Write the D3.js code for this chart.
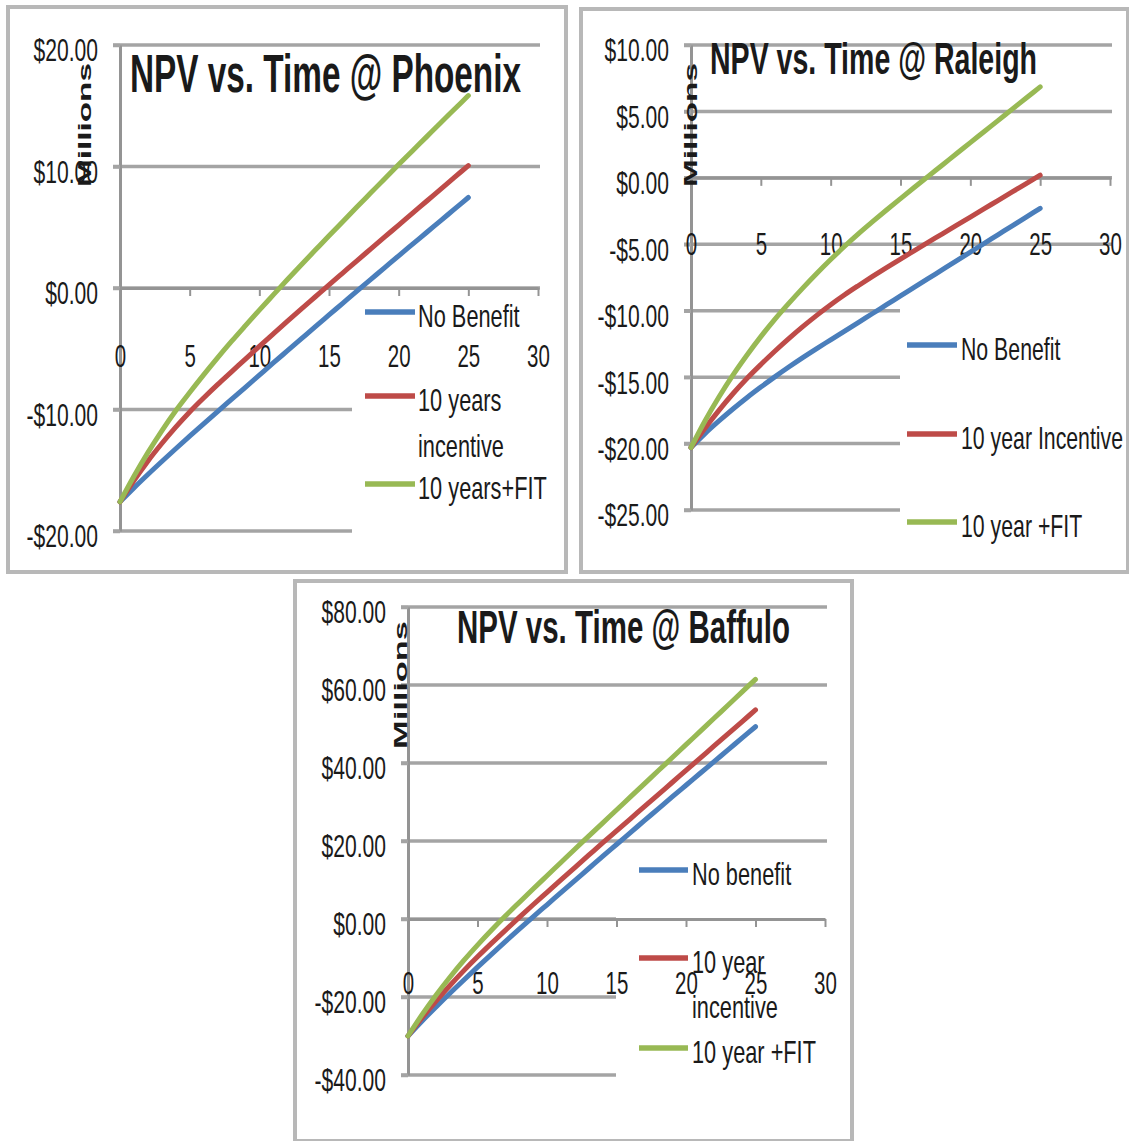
<!DOCTYPE html>
<html>
<head>
<meta charset="utf-8">
<script src="https://cdn.jsdelivr.net/npm/d3@7"></script>
<style>
  html, body { margin: 0; padding: 0; background: #ffffff; }
  svg { display: block; }
  text { font-family: "Liberation Sans", Arial, sans-serif; fill: #1a1a1a; }
</style>
</head>
<body>
<svg id="chart" width="1129" height="1141"></svg>
<script>
// ---- data (NPV in $ millions by project year) ----
const years = [0,1,2,3,4,5,6,7,8,9,10,11,12,13,14,15,16,17,18,19,20,21,22,23,24,25];
const xTicks = [0,5,10,15,20,25,30];

const phoenixYTicks = [-20,-10,0,10,20];
const phoenixNoBenefit = [-17.6,-16.45,-15.35,-14.28,-13.23,-12.2,-11.18,-10.17,-9.17,-8.17,-7.17,-6.17,-5.18,-4.19,-3.2,-2.22,-1.24,-0.26,0.71,1.68,2.65,3.61,4.57,5.53,6.49,7.45];
const phoenixIncentive = [-17.6,-15.85,-14.25,-12.8,-11.45,-10.2,-9.05,-7.95,-6.9,-5.85,-4.8,-3.77,-2.75,-1.74,-0.74,0.26,1.25,2.24,3.22,4.2,5.18,6.16,7.14,8.12,9.1,10.08];
const phoenixFit = [-17.6,-15.5,-13.55,-11.75,-10.1,-8.6,-7.15,-5.75,-4.4,-3.1,-1.82,-0.57,0.68,1.9,3.1,4.3,5.48,6.66,7.83,9.0,10.16,11.3,12.44,13.58,14.71,15.84];
const phoenixLegend = [["No Benefit"], ["10 years", "incentive"], ["10 years+FIT"]];

const raleighYTicks = [-25,-20,-15,-10,-5,0,5,10];
const raleighNoBenefit = [-20.3,-19.25,-18.3,-17.4,-16.55,-15.75,-14.98,-14.24,-13.53,-12.85,-12.19,-11.53,-10.87,-10.21,-9.55,-8.89,-8.23,-7.57,-6.91,-6.25,-5.59,-4.93,-4.27,-3.61,-2.95,-2.29];
const raleighIncentive = [-20.3,-18.85,-17.5,-16.25,-15.1,-14.05,-13.05,-12.1,-11.2,-10.35,-9.55,-8.8,-8.1,-7.42,-6.76,-6.11,-5.47,-4.84,-4.21,-3.58,-2.95,-2.32,-1.69,-1.06,-0.43,0.2];
const raleighFit = [-20.3,-18.3,-16.5,-14.85,-13.35,-11.95,-10.65,-9.45,-8.3,-7.2,-6.15,-5.15,-4.2,-3.3,-2.42,-1.56,-0.71,0.13,0.97,1.81,2.65,3.49,4.33,5.17,6.01,6.85];
const raleighLegend = [["No Benefit"], ["10 year Incentive"], ["10 year +FIT"]];

const buffaloYTicks = [-40,-20,0,20,40,60,80];
const buffaloNoBenefit = [-30,-26.2,-22.6,-19.1,-15.7,-12.35,-9.05,-5.8,-2.6,0.55,3.65,6.75,9.85,12.95,16.05,19.1,22.15,25.2,28.25,31.3,34.3,37.3,40.3,43.3,46.3,49.3];
const buffaloIncentive = [-30,-25.4,-21.1,-17.1,-13.3,-9.7,-6.25,-2.9,0.4,3.65,6.85,10.05,13.2,16.35,19.5,22.6,25.7,28.8,31.9,35.0,38.1,41.2,44.3,47.4,50.5,53.6];
const buffaloFit = [-30,-24.6,-19.6,-15.0,-10.7,-6.7,-2.9,0.75,4.25,7.7,11.1,14.5,17.9,21.25,24.6,27.95,31.3,34.65,38.0,41.35,44.7,48.05,51.4,54.75,58.1,61.45];
const buffaloLegend = [["No benefit"], ["10 year", "incentive"], ["10 year +FIT"]];

const seriesColors = ["#4a7ebb", "#be4b48", "#98b954"];

// ---- layout of the three panels ----
const panels = [
  {
    title: "NPV vs. Time @ Phoenix", titleX: 130, titleY: 92, titleSize: 54, titleW: 391,
    frame: [8, 7, 558, 565],
    xRange: [120, 538], yDomain: [-20, 20], yRange: [531, 45], yTicks: phoenixYTicks,
    series: [phoenixNoBenefit, phoenixIncentive, phoenixFit], legend: phoenixLegend,
    xLabelOffset: 49, millions: { x: 84, y: 125, len: 124 },
    legendBox: [352, 298, 200, 250], swatch: [365, 415], rows: [312, 396, 484], textX: 418, lineGap: 46, legendK: 0.68
  },
  {
    title: "NPV vs. Time @ Raleigh", titleX: 710, titleY: 74, titleSize: 45, titleW: 327,
    frame: [581, 9, 547, 563],
    xRange: [691, 1110], yDomain: [-25, 10], yRange: [510, 45], yTicks: raleighYTicks,
    series: [raleighNoBenefit, raleighIncentive, raleighFit], legend: raleighLegend,
    xLabelOffset: 47, millions: { x: 690, y: 125, len: 124 },
    legendBox: [900, 252, 226, 316], swatch: [907, 957], rows: [345, 434, 522], textX: 961, lineGap: 46, legendK: 0.665
  },
  {
    title: "NPV vs. Time @ Baffulo", titleX: 457, titleY: 643, titleSize: 46, titleW: 333,
    frame: [295, 581, 557, 560],
    xRange: [408, 825], yDomain: [-40, 80], yRange: [1075, 607], yTicks: buffaloYTicks,
    series: [buffaloNoBenefit, buffaloIncentive, buffaloFit], legend: buffaloLegend,
    xLabelOffset: 45, millions: { x: 400, y: 685, len: 128 },
    legendBox: [616, 848, 232, 250], swatch: [639, 688], rows: [870, 958, 1048], textX: 692, lineGap: 45, legendK: 0.68
  }
];

const svg = d3.select("#chart");
const fmtMoney = v => (v < 0 ? "-$" : "$") + Math.abs(v).toFixed(2);

// narrow the glyphs of a text selection horizontally
function squeeze(sel, k) {
  sel.each(function () {
    const w = this.getComputedTextLength();
    d3.select(this).attr("textLength", w * k).attr("lengthAdjust", "spacingAndGlyphs");
  });
}

panels.forEach(p => {
  const g = svg.append("g");
  const x = d3.scaleLinear().domain([0, 30]).range(p.xRange);
  const y = d3.scaleLinear().domain(p.yDomain).range(p.yRange);

  // chart frame
  g.append("rect")
    .attr("x", p.frame[0]).attr("y", p.frame[1])
    .attr("width", p.frame[2]).attr("height", p.frame[3])
    .attr("fill", "#ffffff").attr("stroke", "#b8b8b8").attr("stroke-width", 4);

  // horizontal gridlines
  g.append("g").selectAll("line").data(p.yTicks).join("line")
    .attr("x1", x(0) - 7).attr("x2", x(30) + 2)
    .attr("y1", d => y(d)).attr("y2", d => y(d))
    .attr("stroke", "#a4a4a4").attr("stroke-width", 3.5);

  // legend background sits over the plot area
  g.append("rect")
    .attr("x", p.legendBox[0]).attr("y", p.legendBox[1])
    .attr("width", p.legendBox[2]).attr("height", p.legendBox[3])
    .attr("fill", "#ffffff");

  // vertical value axis
  const yAxis = g.append("g")
    .attr("transform", `translate(${x(0)},0)`)
    .call(d3.axisLeft(y).tickValues(p.yTicks).tickFormat(fmtMoney)
      .tickSizeInner(7).tickSizeOuter(0).tickPadding(15));
  yAxis.select(".domain").attr("stroke", "#949494").attr("stroke-width", 3);
  yAxis.selectAll(".tick line").attr("stroke", "#a4a4a4").attr("stroke-width", 3.5);
  const yText = yAxis.selectAll(".tick text")
    .attr("y", 6).attr("font-size", 31).attr("fill", "#1a1a1a")
    .style("font-family", '"Liberation Sans", Arial, sans-serif');
  squeeze(yText, 0.68);

  // horizontal year axis crossing at zero
  const xAxis = g.append("g")
    .attr("transform", `translate(0,${y(0)})`)
    .call(d3.axisBottom(x).tickValues(xTicks).tickFormat(d3.format("d"))
      .tickSizeInner(8).tickSizeOuter(0).tickPadding(p.xLabelOffset));
  xAxis.select(".domain").attr("stroke", "#949494").attr("stroke-width", 3);
  xAxis.selectAll(".tick line").attr("stroke", "#949494").attr("stroke-width", 2);
  const xText = xAxis.selectAll(".tick text")
    .attr("font-size", 31).attr("fill", "#1a1a1a")
    .style("font-family", '"Liberation Sans", Arial, sans-serif');
  squeeze(xText, 0.66);

  // NPV series
  const line = d3.line().x((d, i) => x(years[i])).y(d => y(d)).curve(d3.curveMonotoneX);
  g.append("g").selectAll("path").data(p.series).join("path")
    .attr("d", line)
    .attr("fill", "none")
    .attr("stroke", (d, i) => seriesColors[i])
    .attr("stroke-width", 5)
    .attr("stroke-linecap", "round")
    .attr("stroke-linejoin", "round");

  // legend entries
  const lg = g.append("g");
  p.legend.forEach((lines, i) => {
    lg.append("line")
      .attr("x1", p.swatch[0]).attr("x2", p.swatch[1])
      .attr("y1", p.rows[i]).attr("y2", p.rows[i])
      .attr("stroke", seriesColors[i]).attr("stroke-width", 5.5);
    lines.forEach((txt, j) => {
      const t = lg.append("text")
        .attr("x", p.textX).attr("y", p.rows[i] + 4 + j * p.lineGap)
        .attr("dy", "0.35em").attr("font-size", 32)
        .text(txt);
      squeeze(t, p.legendK);
    });
  });

  // chart title
  g.append("text")
    .attr("x", p.titleX).attr("y", p.titleY)
    .attr("font-size", p.titleSize).attr("font-weight", "bold").attr("fill", "#000")
    .attr("textLength", p.titleW).attr("lengthAdjust", "spacingAndGlyphs")
    .text(p.title);

  // value-axis unit label
  g.append("text")
    .attr("transform", `translate(${p.millions.x},${p.millions.y}) rotate(-90)`)
    .attr("text-anchor", "middle").attr("dy", "0.35em")
    .attr("font-size", 19).attr("font-weight", "bold").attr("fill", "#000")
    .attr("textLength", p.millions.len).attr("lengthAdjust", "spacingAndGlyphs")
    .text("Millions");
});
</script>
</body>
</html>
